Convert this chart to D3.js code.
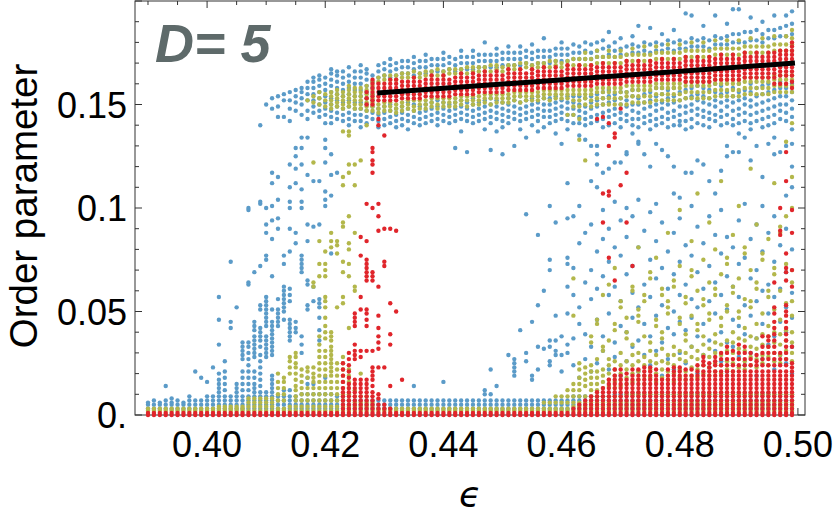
<!DOCTYPE html>
<html lang="en">
<head>
<meta charset="UTF-8">
<title>Order parameter vs epsilon, D = 5</title>
<script src="https://d3js.org/d3.v7.min.js"></script>
<style>
  body { margin: 0; background: #fff; }
  svg text { font-family: "Liberation Sans", Arial, Helvetica, sans-serif; }
</style>
</head>
<body>
<div id="chart"></div>
<script>
// coupling values of the sampled columns
var eps = [0.390, 0.391, 0.392, 0.393, 0.394, 0.395, 0.396, 0.397, 0.398, 0.399,
  0.400, 0.401, 0.402, 0.403, 0.404, 0.405, 0.406, 0.407, 0.408, 0.409,
  0.410, 0.411, 0.412, 0.413, 0.414, 0.415, 0.416, 0.417, 0.418, 0.419,
  0.420, 0.421, 0.422, 0.423, 0.424, 0.425, 0.426, 0.427, 0.428, 0.429,
  0.430, 0.431, 0.432, 0.433, 0.434, 0.435, 0.436, 0.437, 0.438, 0.439,
  0.440, 0.441, 0.442, 0.443, 0.444, 0.445, 0.446, 0.447, 0.448, 0.449,
  0.450, 0.451, 0.452, 0.453, 0.454, 0.455, 0.456, 0.457, 0.458, 0.459,
  0.460, 0.461, 0.462, 0.463, 0.464, 0.465, 0.466, 0.467, 0.468, 0.469,
  0.470, 0.471, 0.472, 0.473, 0.474, 0.475, 0.476, 0.477, 0.478, 0.479,
  0.480, 0.481, 0.482, 0.483, 0.484, 0.485, 0.486, 0.487, 0.488, 0.489,
  0.490, 0.491, 0.492, 0.493, 0.494, 0.495, 0.496, 0.497, 0.498, 0.499];

// order parameter samples of each column, in units of 0.001
var blueY = [
  "3 5 6", "3 5 7", "3 5 6", "3 5 7 14", "3 5 6 8", "3 5 7", "3 5 6", "3 5 7 9", "3 5 7 21", "3 5 7 18",
  "3 5 7 9 16", "3 5 7 9 23",
  "3 5 7 9 11 13 15 17 20 34 46 57",
  "3 5 7 9 12 15 18 21 26",
  "3 5 7 9 42 45 74",
  "3 5 7 9 11 13 15 52",
  "3 5 7 9 12 15 18 21 27 29 31 33 35",
  "3 5 7 9 12 15 18 21 24 27 30 33 35 63 64 99 100",
  "3 5 7 9 11 13 15 18 21 28 30 32 34 36 38 41 43 45 69",
  "3 5 7 9 11 14 17 20 23 26 29 33 36 38 40 42 51 53 72 102 103 140",
  "3 5 7 9 11 28 30 32 34 36 38 43 45 47 49 51 53 55 57 75 77 88 92 100 150",
  "3 5 7 9 11 13 15 17 19 29 31 33 35 37 39 41 43 45 51 67 85 94 101 112 117 148 153",
  "3 5 7 9 43 45 47 49 51 56 90 95 104 115 144 149 154",
  "3 5 7 9 12 46 50 52 54 56 58 60 62 73 77 144 152 155",
  "3 5 7 9 12 36 38 40 42 44 46 55 58 61 79 90 100 103 110 121 142 148 152 156",
  "3 5 7 9 40 42 45 83 88 112 119 125 129 147 151 154 157",
  "3 5 7 10 30 34 38 69 71 73 75 77 100 103 109 121 129 134 145 150 153 156 158",
  "3 5 7 10 15 18 51 53 63 65 84 92 116 134 143 147 152 155 158 161",
  "3 5 7 10 15 55 62 91 113 146 149 152 155 158 161 163",
  "3 5 7 10 36 41 47 52 54 56 92 113 144 147 150 153 156 159 162 164",
  "3 5 7 10 18 101 104 108 122 129 133 141 145 148 151 154 157 160 163",
  "3 5 7 10 78 106 116 126 141 144 147 150 153 156 159 162 165 167",
  "3 5 7 9 117 143 146 149 152 155 158 161 164 166",
  "3 5 7 9 142 145 148 151 154 157 160 163 166",
  "3 5 7 140 143 146 149 152 155 158 161 164 168",
  "3 5 7 142 145 148 151 154 157 160 163 166",
  "3 5 7 139 142 145 148 151 154 157 160 163 166 169",
  "3 5 7 141 144 147 150 153 156 159 162 165 167",
  "3 5 7 143 146 149 152 155 158 161 164",
  "3 5 7 139 142 145 148 163 166 169",
  "3 5 7 140 143 146 149 164 167 170",
  "3 5 7 141 144 147 150 163 166 169 172",
  "3 5 7 139 142 145 148 164 167 170",
  "3 5 7 140 143 146 149 165 168 171",
  "3 5 7 138 142 145 148 151 165 168 171",
  "3 5 7 14 141 144 147 150 164 167 170 173",
  "3 5 7 140 143 146 149 165 168 171",
  "3 5 7 141 144 147 150 165 168 171 174",
  "3 5 7 142 145 148 151 166 169 172",
  "3 5 7 140 143 146 149 152 166 169 172",
  "3 5 7 16 142 145 148 151 166 169 172 175",
  "3 5 7 141 144 147 150 167 170 173",
  "3 5 7 129 142 145 148 151 166 169 172",
  "3 5 7 137 143 146 149 152 167 170 173 176",
  "3 5 7 127 142 145 148 151 167 170 173",
  "3 5 7 141 144 147 150 153 167 170 173 176",
  "3 5 7 142 145 148 151 168 171 174",
  "3 5 7 10 12 138 143 146 149 152 168 171 174 180",
  "3 5 7 10 22 128 141 144 147 150 153 168 171 174",
  "3 5 7 14 137 143 146 149 152 168 171 174 177",
  "3 5 7 126 139 142 145 148 151 169 172 175",
  "3 5 7 29 141 144 147 150 153 169 172 175 178",
  "3 5 7 19 21 23 25 27 130 143 146 149 152 169 172 175",
  "3 5 7 41 138 142 145 148 151 154 169 172 175 178",
  "3 5 7 26 30 97 134 143 146 149 152 170 173 176",
  "3 5 7 17 19 45 140 144 147 150 153 169 172 175 179",
  "3 5 7 22 33 53 87 137 142 145 148 151 154 170 173 176",
  "3 5 7 32 60 139 144 147 150 153 170 173 176 182",
  "3 5 7 24 26 33 36 70 75 101 141 144 147 150 153 170 173 176",
  "3 5 7 29 31 36 48 93 136 142 145 148 151 154 171 174 177",
  "3 5 7 21 29 38 131 143 146 149 152 171 174 177 180",
  "3 5 7 30 34 49 62 73 76 95 112 138 142 145 148 151 154 171 174 177",
  "3 5 7 9 24 37 58 71 96 141 145 148 151 154 172 175 179",
  "3 5 7 9 18 44 52 83 101 135 141 144 147 150 154 172 175 178",
  "3 5 7 9 27 39 64 88 133 140 143 146 149 153 172 176 180",
  "3 5 7 9 21 33 56 70 92 113 130 141 144 148 151 154 172 175 179",
  "3 5 7 9 25 46 61 79 110 121 126 130 142 145 149 152 155 173 176 180",
  "3 5 7 9 31 38 67 85 99 117 139 143 146 150 153 156 173 177 181",
  "3 5 7 9 22 49 58 74 90 119 140 144 147 151 154 157 174 178 185",
  "3 5 7 10 28 35 62 81 103 122 141 145 148 152 155 173 176 180",
  "3 5 7 10 19 43 55 77 94 122 139 143 146 150 153 156 174 177 182",
  "3 5 7 10 26 40 68 86 100 126 127 142 145 149 152 156 174 178",
  "3 5 7 10 33 47 59 72 96 136 140 143 147 150 154 157 175 179 183",
  "3 5 7 10 21 36 52 81 104 131 132 139 143 146 150 153 157 175 178 188",
  "3 5 7 10 29 44 63 89 126 141 144 148 151 155 176 180",
  "3 5 7 10 24 38 57 75 98 120 138 142 145 149 152 156 175 179 187",
  "3 5 7 10 31 48 66 84 102 131 140 143 147 150 154 158 176 180",
  "3 5 7 10 19 35 53 71 93 128 141 144 148 151 155 158 176 179 184",
  "3 5 7 10 27 42 61 79 125 139 143 146 150 153 157 177 181",
  "3 5 7 10 22 39 50 68 88 107 120 140 144 147 151 154 158 176 180 186",
  "3 5 7 10 30 45 58 74 95 105 140 142 145 149 152 156 177 181",
  "3 5 7 10 25 41 63 82 117 138 142 146 149 153 157 177 180 194",
  "3 5 7 10 33 47 56 77 101 117 139 143 147 150 154 158 178 182 193",
  "3 5 7 10 20 38 52 69 91 123 141 145 148 152 155 159 178 181",
  "3 5 7 10 29 44 61 83 121 140 144 147 151 154 158 178 182 188",
  "3 5 7 10 23 36 55 72 96 113 139 143 146 150 153 157 177 181",
  "3 5 7 10 31 49 64 87 107 142 145 149 152 156 160 179 183 193",
  "3 5 7 10 26 40 58 78 99 118 140 144 147 151 155 159 179 182",
  "3 5 7 10 21 35 51 67 86 125 130 141 145 149 152 156 179 183 189",
  "3 5 7 10 33 46 62 81 127 140 143 147 151 154 158 180 184 196",
  "3 5 7 10 28 43 57 73 94 127 136 141 145 148 152 156 160 180 184 196",
  "3 5 7 10 24 39 53 76 102 134 142 146 150 153 157 180 185",
  "3 5 7 10 30 48 66 85 123 138 141 145 149 152 156 160 181 185 192",
  "3 5 7 10 19 37 55 70 92 130 142 146 150 154 158 181 186",
  "3 5 7 10 27 44 60 79 101 115 139 143 147 151 155 159 180 184 190",
  "3 5 7 10 34 49 63 88 131 140 144 148 152 156 160 182 186",
  "3 5 7 10 22 38 57 74 96 126 134 141 145 149 153 157 182 186 193",
  "3 5 7 10 29 45 61 82 127 143 147 150 154 158 161 183 187",
  "3 5 7 10 25 40 52 69 90 106 130 142 146 150 154 158 183 188 193",
  "3 5 7 10 20 33 47 59 80 110 120 131 138 144 148 152 156 160 184 189 195"
];

var oliveY = [
  "2 3", "2 3", "2 3", "2 3", "2 3", "2 3", "2 3", "2 3", "2 3", "2 3", "2 3", "2 3",
  "2 3 4", "2 3 4", "2 3 4", "2 3 4", "2 3 4", "2 4 6 8", "2 4 6 8", "2 4 6 8", "2 4 6 8", "2 4 6 8",
  "2 3 7 10 13 16 20",
  "2 3 7 10 13 16 18",
  "2 4 20 23 26 28",
  "2 4 7 9 12 14 17 20 23 25 28 30",
  "2 4 7 10 13 16 19 22",
  "2 4 7 10 13 18 21 23 152",
  "2 4 7 10 13 16 18 20 23 62 64 122 151 154",
  "2 4 7 10 13 16 19 22 25 28 31 34 38 67 73 84 150 153 156",
  "2 4 7 10 13 16 19 22 25 28 31 37 40 43 47 52 55 57 67 70 73 79 149 152 155",
  "2 4 7 10 13 16 19 21 23 25 27 29 31 33 36 38 40 81 84 88 148 150 152 154 156",
  "2 4 7 10 13 16 19 22 25 52 78 82 84 149 151 153 155 157",
  "2 4 7 10 13 16 19 22 25 28 54 57 69 74 91 93 111 115 137 148 150 152 154 156",
  "2 4 7 10 13 16 19 22 42 67 73 80 83 96 117 121 135 137 149 151 153 155 157 159",
  "2 4 6 9 12 60 62 88 111 121 148 150 152 154 156 158",
  "2 4 6 9 20 123 148 150 152 154 156 158",
  "2 4 6 9 140 147 149 151 153 155 157 159",
  "2 4 6 147 149 151 153 155 157 159 161",
  "2 3 146 148 150 161 163",
  "2 3 147 149 151 162 164",
  "2 3 147 149 151 162 164",
  "2 3 146 148 150 162 164",
  "2 3 147 149 151 163 165",
  "2 3 148 150 152 163 165",
  "2 3 147 149 152 163 166",
  "2 3 148 150 152 163 165",
  "2 3 148 150 152 164 166",
  "2 3 149 151 153 164 166",
  "2 3 148 150 153 164 167",
  "2 3 149 151 153 164 166",
  "2 3 149 151 153 165 167",
  "2 3 149 151 153 165 167",
  "2 3 150 152 154 165 167",
  "2 3 149 152 154 165 168",
  "2 3 150 152 154 166 168",
  "2 3 150 152 154 166 168",
  "2 3 151 153 155 166 168",
  "2 3 150 153 155 166 169",
  "2 3 151 153 155 167 169",
  "2 3 151 153 155 166 168",
  "2 3 151 153 155 167 169",
  "2 3 152 154 156 167 169",
  "2 3 151 154 156 167 170",
  "2 3 152 154 156 168 170",
  "2 3 152 154 156 167 169",
  "2 3 152 154 156 168 170",
  "2 3 6 153 155 157 168 170",
  "2 3 6 152 155 157 168 171",
  "2 3 6 9 153 155 157 169 171",
  "2 3 6 9 153 155 157 168 170",
  "2 3 6 9 12 145 153 155 157 169 171",
  "2 4 6 9 12 15 48 66 145 149 152 155 157 169 172",
  "2 4 6 9 12 15 18 22 25 133 143 149 152 155 157 169 172",
  "2 4 6 9 14 17 20 23 123 150 153 155 157 169 172 175",
  "2 4 6 9 12 15 18 21 24 35 38 149 152 155 157 169 172",
  "2 4 6 9 12 15 18 21 27 44 46 150 153 156 158 170 173 176",
  "2 4 6 9 13 16 19 22 31 33 58 150 153 156 158 170 173",
  "2 4 6 9 14 17 20 24 27 36 63 150 153 156 158 170 173 176",
  "2 4 6 9 13 16 19 22 26 41 44 71 150 153 156 158 170 173",
  "2 4 6 9 14 17 20 24 30 52 55 150 153 156 158 170 173 176",
  "2 4 6 10 15 18 22 26 37 40 47 150 154 156 159 171 174",
  "2 4 6 10 16 20 24 29 34 60 62 151 154 157 159 171 174 177",
  "2 4 6 10 17 21 26 30 45 48 51 81 151 154 157 159 171 174",
  "2 4 6 10 15 19 24 28 38 55 58 151 154 157 159 171 174 178",
  "2 4 6 10 18 22 26 31 35 66 69 151 154 157 159 171 174",
  "2 4 6 10 16 20 25 29 43 46 76 152 155 158 160 172 175 178",
  "2 4 6 10 18 22 26 32 37 40 58 61 152 155 158 160 172 175",
  "2 4 6 10 17 21 25 29 49 52 55 88 152 155 158 160 172 175 179",
  "2 4 6 10 16 20 24 29 33 62 65 152 155 158 160 172 175",
  "2 4 6 10 18 22 27 31 44 47 72 99 152 155 158 160 172 175 179",
  "2 4 6 10 17 21 26 30 36 39 54 57 153 156 159 161 173 176",
  "2 4 6 10 19 23 28 33 48 67 70 84 153 156 159 161 173 176 180",
  "2 4 6 10 18 22 27 31 41 44 60 107 153 156 159 161 173 176",
  "2 4 6 10 20 24 29 34 38 53 56 75 153 156 159 161 173 176 180",
  "2 4 6 10 19 23 28 32 46 49 64 93 153 156 159 161 173 176",
  "2 4 6 10 21 25 30 35 39 58 61 80 154 157 160 162 174 177 181",
  "2 4 6 10 20 24 29 34 43 47 68 113 154 157 160 162 174 177",
  "2 4 6 10 22 26 31 36 50 53 73 76 154 157 160 162 174 177 181",
  "2 4 6 10 21 25 30 35 40 59 62 87 154 157 160 162 174 177",
  "2 4 6 10 23 27 32 37 47 50 66 101 154 157 160 162 174 177 181",
  "2 4 6 10 22 26 31 36 42 56 78 81 155 158 161 163 175 178",
  "2 4 6 10 24 28 33 38 52 55 70 119 155 158 161 163 175 178 182",
  "2 4 6 10 23 27 32 37 44 61 64 92 155 158 161 163 175 178",
  "2 4 6 10 25 29 34 39 49 75 78 155 158 161 163 175 178 182",
  "2 4 6 10 24 28 33 38 43 57 60 85 155 158 161 163 175 178",
  "2 4 6 10 26 30 35 40 51 68 71 112 156 159 162 164 176 179 183",
  "2 4 6 10 25 29 34 39 46 60 88 91 156 159 162 164 176 179",
  "2 4 6 10 27 31 36 41 54 73 96 132 156 159 162 164 176 179 183",
  "2 4 6 10 26 30 35 40 48 55 64 70 100 115 141 156 159 162 164 176 179 182 186"
];

var redY = [
  "0 1", "0 1", "0 1", "0 1", "0 1", "0 1", "0 1", "0 1", "0 1", "0 1",
  "0 1", "0 1", "0 1", "0 1", "0 1", "0 1", "0 1", "0 1", "0 1", "0 1",
  "0 1", "0 1", "0 1", "0 1", "0 1", "0 1", "0 1", "0 1", "0 1", "0 1",
  "0 1", "0 1", "0 1",
  "0 1 3 5 7 9 11 13 16 19 22 25",
  "0 1 3 5 7 9 11 13 15 18 21 24 27 30",
  "0 1 3 5 7 9 11 13 15 17 27 29 31 34 43 45 47 49",
  "0 1 3 5 7 9 11 13 15 17 28 31 51 57 77 86",
  "0 1 3 5 7 9 11 13 15 17 31 43 46 49 51 65 67 69 71 73 75 84 102 150 153 156",
  "0 1 3 5 7 9 11 14 17 19 21 23 31 65 67 69 100 117 121 123 127 129 150 152 154 156 158 160 162",
  "0 1 3 5 8 10 23 32 35 38 42 48 62 89 96 102 140 143 152 154 156 158 160",
  "0 1 3 5 23 72 74 90 135 152 154 156 158 160",
  "0 1 3 14 34 39 54 90 152 154 156 158 160 162",
  "0 1 50 89 152 154 156 158 160 162",
  "0 1 17 153 155 157 159 161",
  "0 1 153 155 157 159 161",
  "0 1 153 155 157 159 161 163",
  "0 1 153 155 157 159 161",
  "0 1 154 156 158 160 162",
  "0 1 154 156 158 160 162 164",
  "0 1 154 156 158 160 162",
  "0 1 154 156 158 160 162 164",
  "0 1 154 156 158 160 162",
  "0 1 155 157 159 161 163",
  "0 1 155 157 159 161 163 165",
  "0 1 155 157 159 161 163",
  "0 1 155 157 159 161 163 165",
  "0 1 156 158 160 162 164",
  "0 1 156 158 160 162 164 166",
  "0 1 156 158 160 162 164",
  "0 1 156 158 160 162 164 166",
  "0 1 156 158 160 162 164",
  "0 1 157 159 161 163 165 167",
  "0 1 157 159 161 163 165",
  "0 1 157 159 161 163 165 167",
  "0 1 157 159 161 163 165",
  "0 1 157 159 161 163 165 167",
  "0 1 158 160 162 164 166",
  "0 1 158 160 162 164 166 168",
  "0 1 158 160 162 164 166",
  "0 1 158 160 162 164 166 168",
  "0 1 158 160 162 164 166",
  "0 1 159 161 163 165 167 169",
  "0 1 3 159 161 163 165 167",
  "0 1 3 5 159 161 163 165 167 169",
  "0 1 3 5 7 159 161 163 165 167",
  "0 1 3 5 7 9 159 161 163 165 167 169",
  "0 1 3 5 7 9 11 143 160 162 164 166 168",
  "0 1 3 5 7 9 11 13 93 107 144 160 162 164 166 168 170",
  "0 1 3 5 7 9 11 13 15 17 76 106 108 130 141 160 162 164 166 168",
  "0 1 3 5 7 9 11 13 15 17 19 22 65 134 136 160 162 164 166 168 170",
  "0 1 3 5 7 9 11 13 15 17 19 22 111 148 160 162 164 166 168",
  "0 1 3 5 7 9 11 13 15 17 20 93 117 161 163 165 167 169 171",
  "0 1 3 5 7 9 11 13 15 17 19 22 72 161 163 165 167 169",
  "0 1 3 5 7 9 11 13 15 17 19 22 161 163 165 167 169 171",
  "0 1 3 5 7 9 11 13 15 17 19 21 23 161 163 165 167 169",
  "0 1 3 5 7 9 11 13 15 17 19 21 23 161 163 165 167 169 171",
  "0 1 3 5 7 9 11 13 15 17 19 22 162 164 166 168 170",
  "0 1 3 5 7 9 11 13 15 17 162 164 166 168 170 172",
  "0 1 3 5 7 9 11 13 15 17 19 22 162 164 166 168 170",
  "0 1 3 5 7 9 11 13 15 17 19 21 23 162 164 166 168 170 172",
  "0 1 3 5 7 9 11 13 15 17 19 21 23 162 164 166 168 170",
  "0 1 3 5 7 9 11 13 15 17 19 22 161 163 165 167 169 171 173",
  "0 1 3 5 7 9 11 13 15 17 19 22 161 163 165 167 169 171",
  "0 1 3 5 7 9 11 13 15 17 19 21 24 161 163 165 167 169 171 173",
  "0 1 3 5 7 9 11 13 15 17 19 21 24 26 28 161 163 165 167 169 171",
  "0 1 3 5 7 9 11 13 15 17 19 21 23 25 161 163 165 167 169 171 173",
  "0 1 3 5 7 9 11 13 15 17 19 21 24 26 28 162 164 166 168 170 172",
  "0 1 3 5 7 9 11 13 15 17 19 21 24 27 30 162 164 166 168 170 172 174",
  "0 1 3 5 7 9 11 13 15 17 19 21 24 27 30 33 162 164 166 168 170 172",
  "0 1 3 5 7 9 11 13 15 17 19 21 24 27 31 162 164 166 168 170 172 174",
  "0 1 3 5 7 9 11 13 15 17 19 21 24 27 30 34 162 164 166 168 170 172",
  "0 1 3 5 7 9 11 13 15 17 19 21 24 27 30 33 163 165 167 169 171 173 175",
  "0 1 3 5 7 9 11 13 15 17 19 21 24 27 30 163 165 167 169 171 173",
  "0 1 3 5 7 9 11 13 15 17 19 21 24 26 29 163 165 167 169 171 173 175",
  "0 1 3 5 7 9 11 13 15 17 19 21 24 27 30 33 38 163 165 167 169 171 173",
  "0 1 3 5 7 9 11 13 15 17 19 21 24 27 30 33 36 38 163 165 167 169 171 173 175",
  "0 1 3 5 7 9 11 13 15 17 19 21 24 27 30 33 36 39 42 45 49 52 64 160 163 165 167 169 171 173 175",
  "0 1 3 5 7 9 11 13 15 17 19 21 24 27 30 87 89 100 160 164 166 168 170 172 174 176",
  "0 1 3 5 7 9 11 13 15 17 19 21 24 27 30 33 36 39 42 45 48 50 53 65 69 71 78 113 127 160 164 166 168 170 172 174 176",
  "0 1 3 5 7 9 11 13 15 17 19 21 23 25 33 62 70 88 99 158 161 164 166 168 170 172 174 176 178 180"
];

// fitted line over the upper branch
var fitEps = [0.4288, 0.4995];
var fitY = [0.1555, 0.1700];

var xTicks = [0.40, 0.42, 0.44, 0.46, 0.48, 0.50];
var xTickLabels = ["0.40", "0.42", "0.44", "0.46", "0.48", "0.50"];
var yTicks = [0, 0.05, 0.1, 0.15];
var yTickLabels = ["0.", "0.05", "0.1", "0.15"];

var width = 837, height = 522;
var plotLeft = 135, plotRight = 805, plotTop = 1, plotBottom = 415;

var svg = d3.select("#chart").append("svg")
  .attr("width", width)
  .attr("height", height);

var x = d3.scaleLinear().domain([0.3878, 0.5012]).range([plotLeft, plotRight]);
var y = d3.scaleLinear().domain([0, 0.2]).range([plotBottom, plotTop]);

// frame
svg.append("rect")
  .attr("x", plotLeft).attr("y", plotTop)
  .attr("width", plotRight - plotLeft).attr("height", plotBottom - plotTop)
  .attr("fill", "none").attr("stroke", "#333").attr("stroke-width", 1);

// minor + major ticks on all four sides
var xMinor = d3.range(0.390, 0.5011, 0.005);
var yMinor = d3.range(0, 0.2001, 0.01);
function isMajorX(v) { return Math.abs(v * 50 - Math.round(v * 50)) < 1e-6; }
function isMajorY(v) { return Math.abs(v * 20 - Math.round(v * 20)) < 1e-6; }

var ticks = svg.append("g").attr("stroke", "#333").attr("stroke-width", 1);
xMinor.forEach(function (v) {
  var len = isMajorX(v) ? 7 : 4;
  ticks.append("line").attr("x1", x(v)).attr("x2", x(v)).attr("y1", plotBottom).attr("y2", plotBottom - len);
  ticks.append("line").attr("x1", x(v)).attr("x2", x(v)).attr("y1", plotTop).attr("y2", plotTop + len);
});
yMinor.forEach(function (v) {
  var len = isMajorY(v) ? 7 : 4;
  ticks.append("line").attr("x1", plotLeft).attr("x2", plotLeft + len).attr("y1", y(v)).attr("y2", y(v));
  ticks.append("line").attr("x1", plotRight).attr("x2", plotRight - len).attr("y1", y(v)).attr("y2", y(v));
});

// points
function toPoints(series) {
  var pts = [];
  series.forEach(function (s, i) {
    s.split(" ").forEach(function (v) {
      pts.push({ e: eps[i], v: +v / 1000 });
    });
  });
  return pts;
}

var series = [
  { data: blueY, color: "#5b9bc8" },
  { data: oliveY, color: "#b3b74b" },
  { data: redY, color: "#e0252b" }
];

series.forEach(function (s) {
  svg.append("g")
    .selectAll("circle")
    .data(toPoints(s.data))
    .enter()
    .append("circle")
    .attr("cx", d => x(d.e))
    .attr("cy", d => y(d.v))
    .attr("r", 2.2)
    .attr("fill", s.color);
});

// fit line
var line = d3.line().x(d => x(d[0])).y(d => y(d[1]));
svg.append("path")
  .datum(fitEps.map((e, i) => [e, fitY[i]]))
  .attr("d", line)
  .attr("fill", "none")
  .attr("stroke", "#000")
  .attr("stroke-width", 5);

// tick labels
svg.append("g").selectAll("text")
  .data(xTicks)
  .enter().append("text")
  .attr("x", d => x(d))
  .attr("y", 457)
  .attr("text-anchor", "middle")
  .attr("font-size", 36)
  .text((d, i) => xTickLabels[i]);

svg.append("g").selectAll("text")
  .data(yTicks)
  .enter().append("text")
  .attr("x", 127)
  .attr("y", d => y(d) + 13)
  .attr("text-anchor", "end")
  .attr("font-size", 36)
  .text((d, i) => yTickLabels[i]);

// axis titles
svg.append("text")
  .attr("transform", "translate(37,206) rotate(-90)")
  .attr("text-anchor", "middle")
  .attr("font-size", 38.5)
  .text("Order parameter");

svg.append("text")
  .attr("x", 470)
  .attr("y", 507)
  .attr("text-anchor", "middle")
  .attr("font-size", 36)
  .attr("font-style", "italic")
  .style("font-family", "'DejaVu Sans', sans-serif")
  .text("ϵ");

// panel label
svg.append("text")
  .attr("x", 155)
  .attr("y", 62)
  .attr("font-size", 54)
  .attr("font-weight", "bold")
  .attr("font-style", "italic")
  .attr("fill", "#5e6a6a")
  .text("D= 5");
</script>
</body>
</html>
